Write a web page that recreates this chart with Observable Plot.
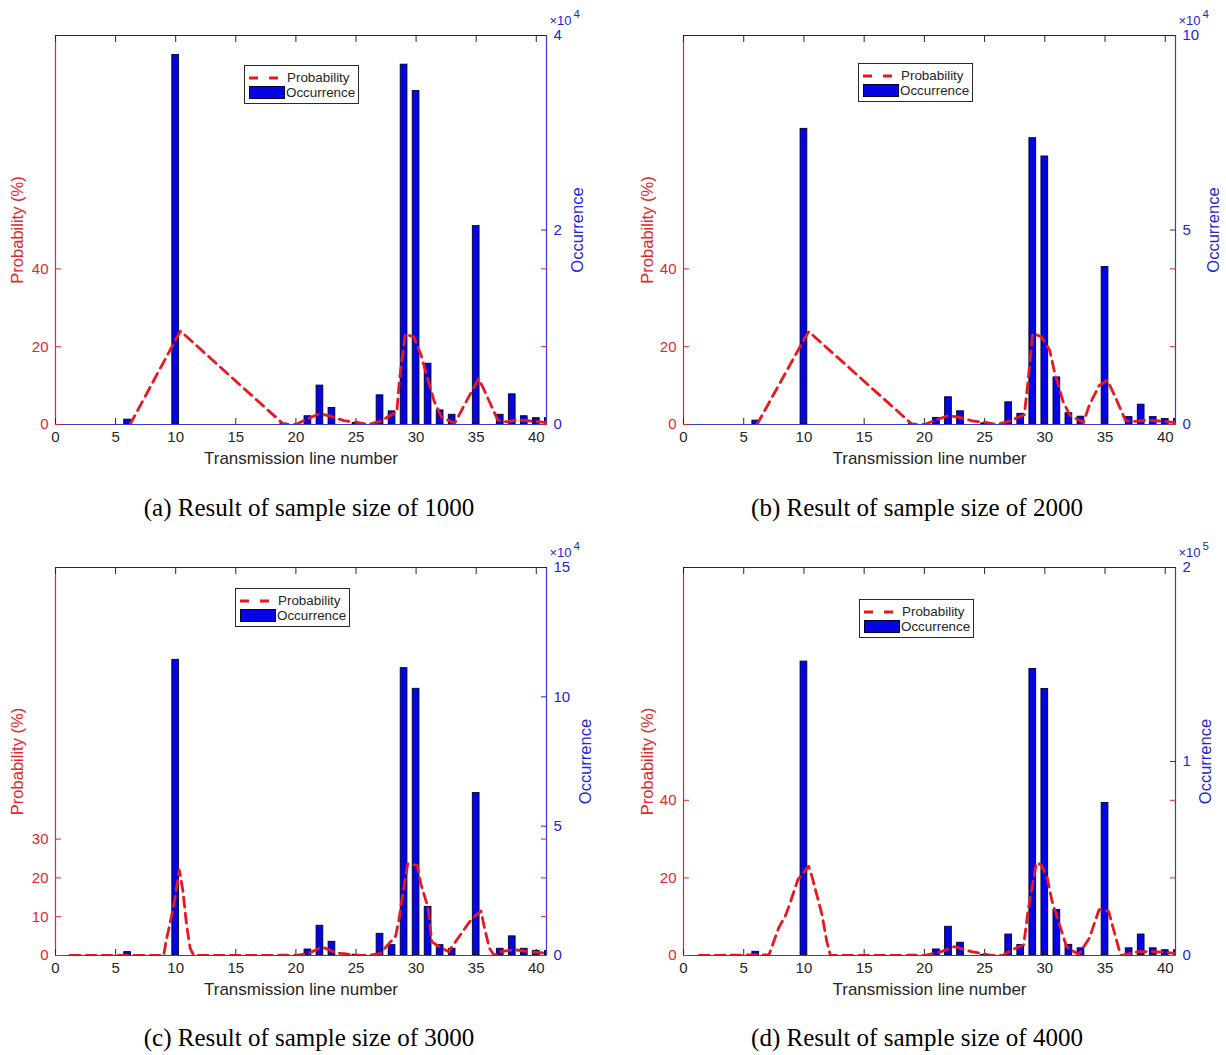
<!DOCTYPE html>
<html>
<head>
<meta charset="utf-8">
<script src="https://cdn.jsdelivr.net/npm/d3@7"></script>
<script src="https://cdn.jsdelivr.net/npm/@observablehq/plot@0.6"></script>
<style>
  body { margin: 0; background: #fff; }
  #root { position: relative; width: 1226px; height: 1055px; overflow: hidden; background: #fff;
          font-family: "Liberation Sans", Arial, Helvetica, sans-serif; }
  .layer { position: absolute; }
  .caption { position: absolute; font-family: "Liberation Serif", "Times New Roman", serif; font-size: 25px;
             color: #000; white-space: nowrap; transform: translate(-50%, -50%); }
  .legend { position: absolute; box-sizing: border-box; border: 1px solid #2a2a2a; background: #fff;
            font-size: 13.4px; color: #262626; }
  .legend span { position: absolute; white-space: nowrap; line-height: 1; }
</style>
</head>
<body>
<div id="root"></div>
<script>
// ---------------- data ----------------
const occLines = [6, 10, 19, 21, 22, 23, 25, 27, 28, 29, 30, 31, 32, 33, 35, 37, 38, 39, 40, 41];

const occA = [500, 38000, 100, 850, 4000, 1700, 150, 3000, 1350, 37000, 34300, 6250, 1450, 1000, 20400, 1000, 3100, 850, 650, 650];
const occB = [1000, 76000, 200, 1700, 7000, 3400, 300, 5700, 2750, 73600, 68900, 12100, 2900, 2000, 40500, 1900, 5100, 1900, 1400, 1400];
const occC = [1300, 114300, 300, 2300, 11500, 5300, 300, 8400, 4000, 111100, 103100, 18800, 4000, 2600, 62800, 2600, 7400, 2600, 1800, 1800];
const occD = [1900, 151500, 400, 3100, 14800, 6600, 400, 10800, 5400, 147700, 137400, 23500, 5500, 3700, 78600, 3700, 10800, 3700, 2700, 2700];

const probXA = [6.2, 10, 10.4, 19, 20, 21, 22, 23, 24, 25, 26, 27, 28.4, 28.6, 29.1, 29.8, 30.4, 30.8, 31.5, 32.1, 33.2, 35.2, 35.6, 36.8, 37.5, 38.5, 39.5, 40.5, 41];
const probYA = [0, 21.8, 24, 0, 0, 1.5, 2.8, 2, 1, 0.6, 0, 0.8, 3.3, 11, 23.3, 22.5, 18, 13.6, 6, 2, 0.3, 11.8, 9.3, 1.1, 0.7, 1.2, 0.9, 0.6, 0.4];

const probXB = [6.1, 10, 10.4, 19, 20, 21, 22, 23, 24, 25, 26, 27, 28.3, 28.6, 29.0, 29.7, 30.4, 30.8, 31.5, 32.1, 33.2, 33.7, 34.5, 35.2, 35.9, 36.7, 37.5, 38.5, 39.5, 40.5, 41];
const probYB = [0, 21.8, 23.9, 0, 0, 1.2, 2.3, 1.8, 0.9, 0.6, 0, 0.8, 2.5, 11, 23.4, 22.6, 19.1, 13.6, 6, 2.3, 0.5, 5, 10, 11.4, 6.7, 1, 0.8, 1.1, 0.9, 0.6, 0.4];

const probXC = [1.2, 9, 9.2, 9.6, 9.9, 10.3, 10.6, 10.9, 11.2, 11.5, 20, 21, 22.2, 23.4, 24, 25, 26, 27, 28.3, 28.6, 28.8, 29.3, 30.1, 30.4, 31, 31.3, 31.9, 32.7, 34.2, 34.6, 35.4, 35.7, 36.1, 36.5, 37, 38.2, 39.3, 40, 41];
const probYC = [0, 0, 3.7, 9.3, 14, 22, 16.7, 8, 1.9, 0, 0, 0.5, 2.2, 0.6, 0.5, 0, 0, 0.5, 5, 9.7, 14, 23.6, 23.2, 18.4, 12.3, 3.6, 2.3, 1, 7.6, 9.3, 11.5, 7, 1.9, 0, 1, 1.5, 1, 0.8, 0.5];

const probXD = [1.3, 7.1, 7.9, 8.5, 8.9, 9.5, 10.4, 10.7, 11.5, 11.9, 12.2, 20, 21.4, 22.5, 23.9, 25.6, 26.5, 27.3, 28.25, 28.6, 29.3, 29.7, 30.2, 30.6, 31.8, 32.8, 33.7, 34.5, 35.3, 35.9, 36.3, 37.8, 39, 40, 41];
const probYD = [0, 0.2, 7.1, 10.5, 14, 19.6, 23, 20, 10.5, 3.6, 0, 0, 1, 2.3, 1, 0, 0, 1.5, 2.8, 11.4, 23.9, 23.4, 20, 14, 2.3, 0.2, 4.5, 11.8, 11.4, 4.5, 0, 1, 1, 0.8, 0.5];

const xTicks = [0, 5, 10, 15, 20, 25, 30, 35, 40];
const probTicksA = [0, 20, 40];
const probTicksC = [0, 10, 20, 30];
const occTicksA = [0, 20000, 40000];
const occTicksB = [0, 50000, 100000];
const occTicksC = [0, 50000, 100000, 150000];
const occTicksD = [0, 100000, 200000];
const captions = ["(a) Result of sample size of 1000", "(b) Result of sample size of 2000",
                  "(c) Result of sample size of 3000", "(d) Result of sample size of 4000"];
const legendLabels = ["Probability", "Occurrence"];

// ---------------- styles ----------------
const FONT = "'Liberation Sans', Arial, Helvetica, sans-serif";
const RED = "#e2262b";
const LINE_RED = "#e8181f";
const BLUE = "#2424d2";
const BASE_BLUE = "#3a3ac6";
const BAR_FILL = "#0404e4";
const BAR_EDGE = "#00002e";
const DARK = "#262626";
const X_DOMAIN = [0, 40.85];

const root = document.getElementById("root");

function panel(cfg) {
  const {left, top, width, height, mL, mR, mT, mB} = cfg;
  const dims = {width, height, marginLeft: mL, marginRight: mR, marginTop: mT, marginBottom: mB};

  const bars = occLines.map((x, i) => ({x, v: cfg.occ[i]}));
  const prob = cfg.probX.map((x, i) => ({x, y: cfg.probY[i]}));

  const barPlot = Plot.plot({
    ...dims,
    style: {fontFamily: FONT, fontSize: "15px", background: "transparent", overflow: "visible"},
    x: {domain: X_DOMAIN, axis: null},
    y: {domain: [0, cfg.occMax], axis: null},
    marks: [
      Plot.rect(bars, {x1: d => d.x - 0.28, x2: d => d.x + 0.28, y1: 0, y2: "v",
                       fill: BAR_FILL, stroke: BAR_EDGE, strokeWidth: 0.9, clip: true}),
      Plot.ruleY([0], {stroke: BASE_BLUE, strokeWidth: 1.2}),
      Plot.ruleX([X_DOMAIN[1]], {stroke: BASE_BLUE, strokeWidth: 1.2}),
      Plot.axisY({anchor: "right", ticks: cfg.occTicks, tickFormat: d => d / cfg.occDiv,
                  tickSize: -6, tickPadding: 13, color: BLUE, label: null}),
      Plot.text(["Occurrence"], {frameAnchor: "right", dx: cfg.occLabelDx, rotate: -90,
                                 textAnchor: "middle", fill: BLUE, fontSize: 16.5}),
      Plot.text(["\u00d710"], {frameAnchor: "top-right", dx: 3, dy: -20, textAnchor: "start",
                               fill: BLUE, fontSize: 13}),
      Plot.text([cfg.exp], {frameAnchor: "top-right", dx: 27, dy: -26, textAnchor: "start",
                            fill: BLUE, fontSize: 11.5})
    ]
  });

  const linePlot = Plot.plot({
    ...dims,
    style: {fontFamily: FONT, fontSize: "15px", background: "transparent", overflow: "visible"},
    x: {domain: X_DOMAIN},
    y: {domain: [0, 100]},
    marks: [
      Plot.ruleX([X_DOMAIN[0]], {stroke: RED, strokeWidth: 1.2}),
      Plot.ruleY([100], {stroke: DARK, strokeWidth: 1.2}),
      Plot.axisX({anchor: "bottom", ticks: xTicks, tickSize: -6, tickPadding: 13, color: DARK, label: null}),
      Plot.axisX({anchor: "top", ticks: xTicks, tickSize: -6, tickFormat: () => "", color: DARK, label: null}),
      Plot.axisY({anchor: "left", ticks: cfg.probTicks, tickSize: -6, tickPadding: 13, color: RED, label: null}),
      Plot.axisY({anchor: "right", ticks: cfg.probTicks, tickSize: -6, tickFormat: () => "", color: RED, label: null}),
      Plot.line(prob, {x: "x", y: "y", stroke: LINE_RED, strokeWidth: 2.8, strokeDasharray: "10,6", clip: true}),
      Plot.text(["Probability (%)"], {frameAnchor: "left", dx: cfg.probLabelDx, rotate: -90,
                                      textAnchor: "middle", fill: RED, fontSize: 16.5}),
      Plot.text(["Transmission line number"], {frameAnchor: "bottom", dy: 39, textAnchor: "middle",
                                               fill: DARK, fontSize: 17})
    ]
  });

  for (const p of [barPlot, linePlot]) {
    const d = document.createElement("div");
    d.className = "layer";
    d.style.left = left + "px";
    d.style.top = top + "px";
    d.style.width = width + "px";
    d.style.height = height + "px";
    d.appendChild(p);
    root.appendChild(d);
  }

  // legend
  const lg = document.createElement("div");
  lg.className = "legend";
  lg.style.left = cfg.legend[0] + "px";
  lg.style.top = cfg.legend[1] + "px";
  lg.style.width = "115px";
  lg.style.height = "39px";
  lg.innerHTML =
    `<svg width="44" height="37" style="position:absolute;left:0;top:0">
       <line x1="4" x2="33" y1="12" y2="12" stroke="${LINE_RED}" stroke-width="3" stroke-dasharray="9,11"/>
       <rect x="4.5" y="20.5" width="35" height="12" fill="${BAR_FILL}" stroke="${BAR_EDGE}" stroke-width="1"/>
     </svg>
     <span style="left:42px;top:5px">${legendLabels[0]}</span>
     <span style="left:41px;top:20px">${legendLabels[1]}</span>`;
  root.appendChild(lg);

  const cap = document.createElement("div");
  cap.className = "caption";
  cap.style.left = cfg.caption[1] + "px";
  cap.style.top = cfg.caption[2] + "px";
  cap.textContent = cfg.caption[0];
  root.appendChild(cap);
}

panel({left: 0, top: 0, width: 613, height: 480, mL: 55, mR: 67, mT: 35, mB: 56,
       occ: occA, occMax: 40000, occTicks: occTicksA, occDiv: 1e4, exp: "4",
       probX: probXA, probY: probYA, probTicks: probTicksA,
       probLabelDx: -38, occLabelDx: 31, legend: [244, 65], caption: [captions[0], 309, 508]});
panel({left: 613, top: 0, width: 613, height: 480, mL: 70, mR: 51, mT: 35, mB: 56,
       occ: occB, occMax: 100000, occTicks: occTicksB, occDiv: 1e4, exp: "4",
       probX: probXB, probY: probYB, probTicks: probTicksA,
       probLabelDx: -36, occLabelDx: 38, legend: [858, 63], caption: [captions[1], 917, 508]});
panel({left: 0, top: 532, width: 613, height: 480, mL: 55, mR: 67, mT: 35, mB: 57,
       occ: occC, occMax: 150000, occTicks: occTicksC, occDiv: 1e4, exp: "4",
       probX: probXC, probY: probYC, probTicks: probTicksC,
       probLabelDx: -38, occLabelDx: 39, legend: [235, 588], caption: [captions[2], 309, 1038]});
panel({left: 613, top: 532, width: 613, height: 480, mL: 70, mR: 51, mT: 35, mB: 57,
       occ: occD, occMax: 200000, occTicks: occTicksD, occDiv: 1e5, exp: "5",
       probX: probXD, probY: probYD, probTicks: probTicksA,
       probLabelDx: -36, occLabelDx: 30, legend: [859, 599], caption: [captions[3], 917, 1038]});
</script>
</body>
</html>
